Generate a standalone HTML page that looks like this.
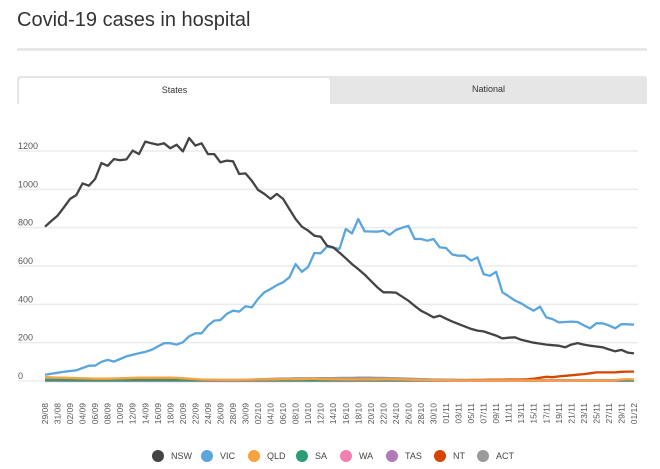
<!DOCTYPE html>
<html><head><meta charset="utf-8">
<style>
body{margin:0;background:#fff;font-family:"Liberation Sans",sans-serif;}
#wrap{position:relative;width:660px;height:469px;overflow:hidden;}
#title{position:absolute;left:17px;top:9px;font-size:20px;color:#333;}
#rule{position:absolute;left:17px;top:48px;width:630px;height:3px;background:#e8e8e8;}
#tabs{position:absolute;left:17px;top:76px;width:630px;height:28px;background:#e6e6e6;border-radius:3px 3px 0 0;}
.tab{position:absolute;top:0;height:28px;line-height:26px;text-align:center;font-size:9px;color:#333;}
#t1{left:2px;top:2px;width:311px;height:26px;line-height:24px;background:#fff;border-radius:3px 3px 0 0;}
#t2{left:313px;width:317px;}
svg{position:absolute;left:0;top:0;}
</style></head><body>
<div id="wrap">
<div id="title">Covid-19 cases in hospital</div>
<div id="rule"></div>
<div id="tabs">
<div class="tab" id="t1">States</div>
<div class="tab" id="t2">National</div>
</div>
<svg id="chart" width="660" height="469"></svg>
</div>
<script>
const yTicks=[0,200,400,600,800,1000,1200];
const nsw=[805,835,862,905,950,970,1031,1019,1054,1137,1123,1158,1152,1156,1202,1184,1249,1240,1233,1240,1214,1233,1198,1268,1228,1240,1184,1184,1141,1150,1146,1080,1083,1045,997,976,950,976,950,897,845,805,784,758,753,706,697,670,640,610,584,555,523,490,463,463,461,440,419,392,367,350,332,341,325,310,297,285,272,263,259,248,237,222,226,228,215,207,200,195,190,187,184,176,190,198,190,184,180,176,165,155,162,148,144];
const vic=[33,38,43,48,52,56,68,80,80,100,110,101,115,129,137,145,152,162,180,197,197,190,202,233,249,249,289,315,318,350,367,362,390,384,428,463,480,500,515,541,610,570,596,668,666,701,695,689,793,770,845,781,780,779,784,762,788,800,810,741,741,732,741,697,694,660,654,654,628,645,558,549,570,463,442,420,405,384,367,388,332,323,306,308,310,308,290,275,301,301,290,275,297,296,294];
const qld=[20,19,18,17,16,15,14,13,12,12,12,13,14,15,16,17,17,17,18,18,17,16,14,12,10,8,7,7,6,6,6,6,7,7,8,8,9,9,10,10,10,10,11,11,10,10,9,9,8,8,8,8,8,8,9,9,8,8,7,6,5,5,4,4,4,3,3,3,3,3,3,3,3,3,3,3,3,3,3,3,3,3,3,3,3,3,3,3,3,3,3,4,8,10,8];
const sa=[4,4,4,3,3,3,3,3,3,3,3,3,3,3,3,3,3,3,3,3,3,3,3,3,3,3,3,3,3,3,3,3,3,3,3,3,3,3,3,3,3,3,3,3,3,3,3,3,3,3,3,3,3,3,3,3,3,3,3,3,3,3,3,3,3,3,3,3,3,3,3,3,3,3,3,3,3,3,3,3,3,3,3,3,3,3,3,3,3,3,3,3,3,3,3];
const wa=[1,1,1,1,1,1,1,1,1,1,1,1,1,1,1,1,1,1,1,1,1,1,1,1,1,1,1,1,1,1,1,1,1,1,1,1,1,1,1,1,1,1,1,1,1,1,1,1,1,1,1,1,1,1,1,1,1,1,1,1,1,1,1,1,1,1,1,1,1,1,1,1,1,1,1,1,1,1,1,1,1,1,1,1,1,1,1,1,1,1,1,1,1,1,1];
const tas=[0,0,0,0,0,0,0,0,0,0,0,0,0,0,0,0,0,0,0,0,0,0,0,0,0,0,0,0,0,0,0,0,0,0,0,0,0,0,0,0,0,0,0,0,0,0,0,0,0,0,1,1,1,1,1,1,1,1,1,1,1,1,1,1,1,1,1,1,1,1,1,1,1,1,1,1,1,1,1,1,1,1,1,1,1,1,1,1,1,1,1,1,1,1,1];
const nt=[3,3,3,3,3,3,3,3,4,4,4,4,4,4,4,4,4,5,5,5,5,5,5,5,5,4,4,4,4,4,4,4,4,5,5,5,5,6,6,6,6,6,7,7,7,7,8,8,8,8,8,7,7,6,5,4,3,2,2,2,2,1,1,1,1,2,3,4,5,6,6,7,7,7,8,8,8,9,12,17,22,20,24,27,30,33,36,40,45,45,45,45,48,49,49];
const act=[12,12,11,11,10,10,10,10,10,10,10,11,11,12,12,12,11,11,10,9,8,7,7,7,7,6,6,6,6,6,6,6,7,8,9,10,11,12,13,13,14,14,14,14,15,15,15,16,16,16,17,17,17,16,16,15,14,13,12,11,10,9,8,8,7,7,6,6,6,5,5,5,5,5,5,5,5,5,5,5,4,4,4,4,4,4,4,4,4,4,4,4,5,5,5];
const xLabels=["29/08","31/08","02/09","04/09","06/09","08/09","10/09","12/09","14/09","16/09","18/09","20/09","22/09","24/09","26/09","28/09","30/09","02/10","04/10","06/10","08/10","10/10","12/10","14/10","16/10","18/10","20/10","22/10","24/10","26/10","28/10","30/10","01/11","03/11","05/11","07/11","09/11","11/11","13/11","15/11","17/11","19/11","21/11","23/11","25/11","27/11","29/11","01/12"];
const seriesNames=["NSW","VIC","QLD","SA","WA","TAS","NT","ACT"];
const seriesColors=["#444444","#5aa5dc","#f6a23e","#2a9d73","#f27fb2","#b07ab8","#d64400","#9a9a9a"];
const seriesData=[nsw,vic,qld,sa,wa,tas,nt,act];

const NS="http://www.w3.org/2000/svg";
const svg=document.getElementById('chart');
const x0=45,x1=634,y0=381,y1=151,nDays=nsw.length;
const xs=i=>x0+(x1-x0)*i/(nDays-1);
const ys=v=>y0-(y0-y1)*v/1200;
function mk(t,a){const e=document.createElementNS(NS,t);for(const k in a)e.setAttribute(k,a[k]);svg.appendChild(e);return e;}
yTicks.forEach(t=>{
  const g=mk('line',{x1:18,x2:638,y1:ys(t),y2:ys(t),stroke:'#ebebeb','stroke-width':1.5});
  
  
  const l=mk('text',{x:18,y:ys(t)-2,'font-size':9,fill:'#555'});
  l.textContent=t;
  
  
});
xLabels.forEach((s,j)=>{
  const x=xs(j*2)+3;
  const t=mk('text',{x:x,y:403,'font-size':8.5,fill:'#555','text-anchor':'end',transform:`rotate(-90 ${x} 403)`});
  t.textContent=s;
  
  
});
for(let k=seriesData.length-1;k>=0;k--){
  const d=seriesData[k].map((v,i)=>(i?'L':'M')+xs(i).toFixed(1)+' '+ys(v).toFixed(1)).join('');
  const p=mk('path',{d:d,fill:'none',stroke:seriesColors[k],'stroke-width':2.3,'stroke-linejoin':'round'});
  
  
}
const lx=[158,207,254,302,346,392,440,483];
seriesNames.forEach((n,k)=>{
  const c=mk('circle',{cx:lx[k],cy:456,r:6,fill:seriesColors[k]});
  
  
  const t=mk('text',{x:lx[k]+13,y:459,'font-size':9,fill:'#444'});
  t.textContent=n;
  
  
});
</script>
</body></html>
